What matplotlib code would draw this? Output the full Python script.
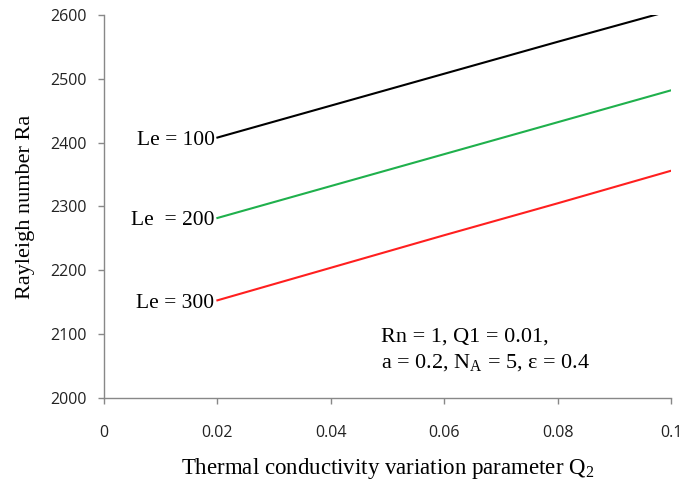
import matplotlib
matplotlib.use("Agg")
import matplotlib.pyplot as plt

q2 = [0.02, 0.04, 0.06, 0.08, 0.1]
ra_le100 = [2408, 2458, 2508, 2558, 2607]
ra_le200 = [2282, 2332, 2382, 2432, 2482]
ra_le300 = [2153, 2204, 2255, 2305, 2356]
labels = ["Le = 100", "Le  = 200", "Le = 300"]
colors = ["black", "#1fb04c", "#ff1f1f"]

serif = "Liberation Serif"
sans = "Open Sans"
plt.rcParams["mathtext.fontset"] = "custom"
plt.rcParams["mathtext.rm"] = serif

fig = plt.figure(figsize=(6.97, 4.80), dpi=100)
ax = fig.add_axes([104 / 697, 1 - 398 / 480, 567 / 697, 383 / 480])

for ys, lab, c in zip([ra_le100, ra_le200, ra_le300], labels, colors):
    ax.plot(q2, ys, color=c, lw=1.5)
    ax.annotate(lab, xy=(q2[0], ys[0]), xytext=(-2, -2), textcoords="offset points",
                ha="right", va="center", fontsize=15.5, family=serif)

ax.set_xlim(0, 0.1)
ax.set_ylim(2000, 2600)
ax.set_xticks([0, 0.02, 0.04, 0.06, 0.08, 0.1])
ax.set_xticklabels(["0", "0.02", "0.04", "0.06", "0.08", "0.1"])
ax.set_yticks(range(2000, 2601, 100))

for s in ["top", "right"]:
    ax.spines[s].set_visible(False)
for s in ["left", "bottom"]:
    ax.spines[s].set_color("#888888")
    ax.spines[s].set_linewidth(1)
ax.tick_params(colors="#888888", length=4.5, width=1, labelcolor="#222222",
               labelsize=11.5, pad=8)
ax.tick_params(axis="x", pad=15)
for t in ax.get_xticklabels() + ax.get_yticklabels():
    t.set_family(sans)

ax.set_xlabel("Thermal conductivity variation parameter Q$_2$", fontsize=16.5,
              family=serif, labelpad=11)
ax.set_ylabel("Rayleigh number Ra", fontsize=16, family=serif, labelpad=11)

ax.text(0.0489, 2088, "Rn = 1, Q1 = 0.01,", fontsize=16, family=serif, va="baseline")
ax.text(0.0489, 2047, "a = 0.2, N$_\\mathrm{A}$ = 5, \u03b5 = 0.4", fontsize=16,
        family=serif, va="baseline")

fig.savefig("out.png", dpi=100)
